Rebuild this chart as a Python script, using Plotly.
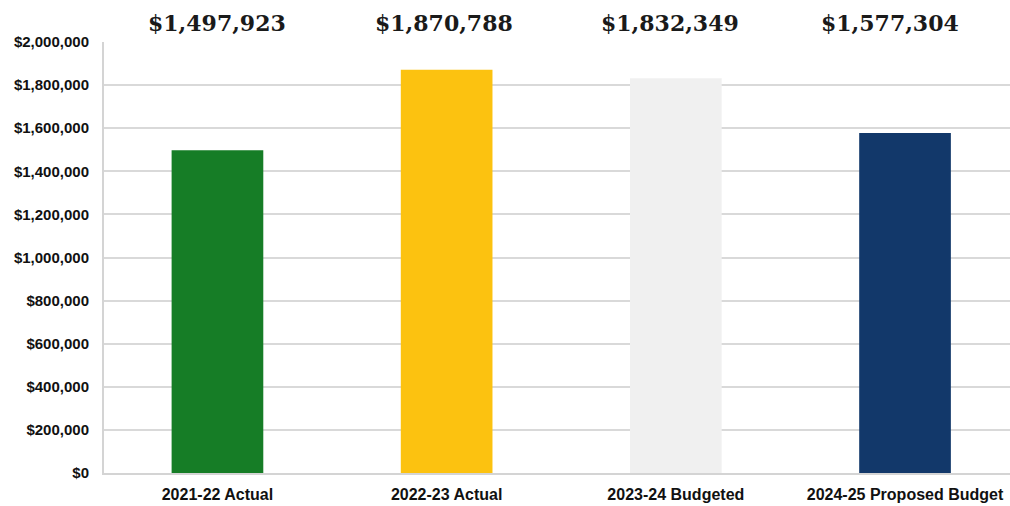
import plotly.graph_objects as go

categories = ["2021-22 Actual", "2022-23 Actual", "2023-24 Budgeted", "2024-25 Proposed Budget"]
values = [1497923, 1870788, 1832349, 1577304]
colors = ["#167d26", "#fcc210", "#f0f0f0", "#12386a"]
tick_vals = [0, 200000, 400000, 600000, 800000, 1000000, 1200000, 1400000, 1600000, 1800000, 2000000]
tick_text = ["$0", "$200,000", "$400,000", "$600,000", "$800,000", "$1,000,000",
             "$1,200,000", "$1,400,000", "$1,600,000", "$1,800,000", "$2,000,000"]

fig = go.Figure(go.Bar(x=categories, y=values, marker=dict(color=colors, line=dict(width=0)),
                       hoverinfo="skip"))

label_nudge = [0, -3, -6, -15]
for c, v, dx in zip(categories, values, label_nudge):
    fig.add_annotation(x=c, y=1.0, xref="x", yref="paper", yanchor="bottom", yshift=4, xshift=dx,
                       text=f"<b>${v:,}</b>", showarrow=False,
                       font=dict(family="DejaVu Serif", size=22, color="#1a1a1a"))

fig.update_layout(
    width=1010, height=506,
    margin=dict(l=104, r=0, t=42, b=33),
    paper_bgcolor="white", plot_bgcolor="white",
    bargap=0.6, showlegend=False,
    font=dict(family="Liberation Sans", color="#111111"),
)
fig.update_xaxes(showgrid=False, showline=True, linecolor="#d4d4d4", linewidth=2,
                 range=[-0.495, 3.458],
                 tickfont=dict(family="Liberation Sans", size=16, color="#111111"),
                 ticks="", tickprefix="<b>", ticksuffix="</b>", ticklabelstandoff=6)
fig.update_yaxes(range=[0, 2000000], tickvals=tick_vals, ticktext=[f"<b>{t}</b>" for t in tick_text],
                 showgrid=True, gridcolor="#d9d9d9", gridwidth=2,
                 showline=True, linecolor="#d4d4d4", linewidth=2, zeroline=False,
                 tickfont=dict(family="Liberation Sans", size=15, color="#111111"),
                 ticks="", ticklabelstandoff=10)

fig.write_html("out.html")
